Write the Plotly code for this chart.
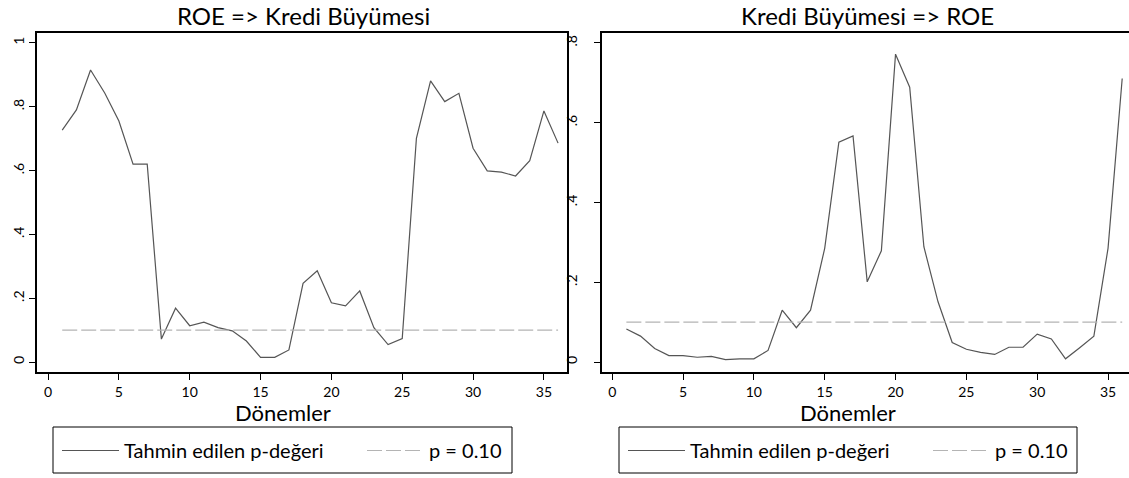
import plotly.graph_objects as go

W, H = 1129, 478

periods = [1, 2, 3, 4, 5, 6, 7, 8, 9, 10, 11, 12, 13, 14, 15, 16, 17, 18,
           19, 20, 21, 22, 23, 24, 25, 26, 27, 28, 29, 30, 31, 32, 33, 34, 35, 36]

p_roe_to_kredi = [0.727, 0.790, 0.915, 0.843, 0.755, 0.620, 0.620, 0.072, 0.169, 0.114,
                  0.125, 0.108, 0.098, 0.066, 0.015, 0.015, 0.038, 0.247, 0.286, 0.186,
                  0.176, 0.223, 0.108, 0.055, 0.074, 0.701, 0.881, 0.816, 0.842, 0.670,
                  0.599, 0.595, 0.583, 0.631, 0.787, 0.686]

p_kredi_to_roe = [0.083, 0.065, 0.034, 0.016, 0.016, 0.012, 0.014, 0.006, 0.008, 0.008,
                  0.029, 0.130, 0.086, 0.130, 0.285, 0.551, 0.567, 0.201, 0.279, 0.772,
                  0.689, 0.289, 0.151, 0.049, 0.032, 0.024, 0.019, 0.037, 0.037, 0.070,
                  0.058, 0.008, 0.036, 0.065, 0.285, 0.711]

threshold = 0.10
x_ticks = [0, 5, 10, 15, 20, 25, 30, 35]
y_ticks_left = [0, 0.2, 0.4, 0.6, 0.8, 1.0]
y_ticks_left_text = ["0", ".2", ".4", ".6", ".8", "1"]
y_ticks_right = [0, 0.2, 0.4, 0.6, 0.8]
y_ticks_right_text = ["0", ".2", ".4", ".6", ".8"]

titles = ["ROE => Kredi Büyümesi", "Kredi Büyümesi => ROE"]
x_title = "Dönemler"
legend_names = ["Tahmin edilen p-değeri", "p = 0.10"]

FONT = "Lato"
LINE_COLOR = "#555555"
DASH_COLOR = "#b4b4b4"


def px_x(p):
    return p / W


def px_y(p):
    return 1 - p / H


fig = go.Figure()

# Left panel
fig.add_trace(go.Scatter(x=periods, y=p_roe_to_kredi, mode="lines",
                         line=dict(color=LINE_COLOR, width=1.2),
                         name=legend_names[0], xaxis="x", yaxis="y", legend="legend"))
fig.add_trace(go.Scatter(x=[periods[0], periods[-1]], y=[threshold, threshold], mode="lines",
                         line=dict(color=DASH_COLOR, width=1.2, dash="15px,4px"),
                         name=legend_names[1], xaxis="x", yaxis="y", legend="legend2"))
# Right panel
fig.add_trace(go.Scatter(x=periods, y=p_kredi_to_roe, mode="lines",
                         line=dict(color=LINE_COLOR, width=1.2),
                         name=legend_names[0], xaxis="x2", yaxis="y2", legend="legend3"))
fig.add_trace(go.Scatter(x=[periods[0], periods[-1]], y=[threshold, threshold], mode="lines",
                         line=dict(color=DASH_COLOR, width=1.2, dash="15px,4px"),
                         name=legend_names[1], xaxis="x2", yaxis="y2", legend="legend4"))

ydom = [px_y(372), px_y(33)]

common_x = dict(showgrid=False, zeroline=False, showline=True, linecolor="black", linewidth=1.5,
                ticks="outside", ticklen=6, tickcolor="black", tickwidth=1,
                tickvals=x_ticks, tickfont=dict(family=FONT, size=14, color="black"),
                mirror=True)
common_y = dict(showgrid=False, zeroline=False, showline=True, linecolor="black", linewidth=1.5,
                ticks="outside", ticklen=6, tickcolor="black", tickwidth=1,
                tickangle=-90, tickfont=dict(family=FONT, size=14, color="black"))


def leg(xpx, width):
    return dict(orientation="h", x=px_x(xpx), y=px_y(431), xanchor="left", yanchor="top",
                borderwidth=0, bgcolor="rgba(0,0,0,0)",
                font=dict(family=FONT, size=20, color="black"), itemwidth=width)


fig.update_layout(
    width=W, height=H,
    margin=dict(l=0, r=0, t=0, b=0, autoexpand=False),
    paper_bgcolor="white", plot_bgcolor="white",
    xaxis=dict(domain=[px_x(37), px_x(567)], range=[-0.78, 36.63], anchor="y", **common_x),
    yaxis=dict(domain=ydom, range=[-0.031, 1.031], anchor="x",
               tickvals=y_ticks_left, ticktext=y_ticks_left_text, mirror=True, **common_y),
    xaxis2=dict(domain=[px_x(602), 1.0], range=[-0.72, 36.48], anchor="y2", **common_x),
    yaxis2=dict(domain=ydom, range=[-0.025, 0.825], anchor="x2",
                tickvals=y_ticks_right, ticktext=y_ticks_right_text, ticklabelstandoff=12,
                **common_y),
    legend=leg(57, 57),
    legend2=leg(362, 57),
    legend3=leg(623, 57),
    legend4=leg(928, 57),
    showlegend=True,
    shapes=[
        dict(type="rect", xref="paper", yref="paper", x0=px_x(53), x1=px_x(512),
             y0=px_y(473), y1=px_y(427), line=dict(color="black", width=1)),
        dict(type="rect", xref="paper", yref="paper", x0=px_x(619), x1=px_x(1077),
             y0=px_y(473), y1=px_y(427), line=dict(color="black", width=1)),
    ],
)

annotations = [
    dict(text=titles[0], x=px_x(303), y=px_y(15), xref="paper", yref="paper",
         showarrow=False, xanchor="center", yanchor="middle",
         font=dict(family=FONT, size=24, color="black")),
    dict(text=titles[1], x=px_x(867), y=px_y(15), xref="paper", yref="paper",
         showarrow=False, xanchor="center", yanchor="middle",
         font=dict(family=FONT, size=24, color="black")),
    dict(text=x_title, x=px_x(283), y=px_y(412), xref="paper", yref="paper",
         showarrow=False, xanchor="center", yanchor="middle",
         font=dict(family=FONT, size=22, color="black")),
    dict(text=x_title, x=px_x(848), y=px_y(412), xref="paper", yref="paper",
         showarrow=False, xanchor="center", yanchor="middle",
         font=dict(family=FONT, size=22, color="black")),
]
fig.update_layout(annotations=annotations)

fig.write_html("out.html")
